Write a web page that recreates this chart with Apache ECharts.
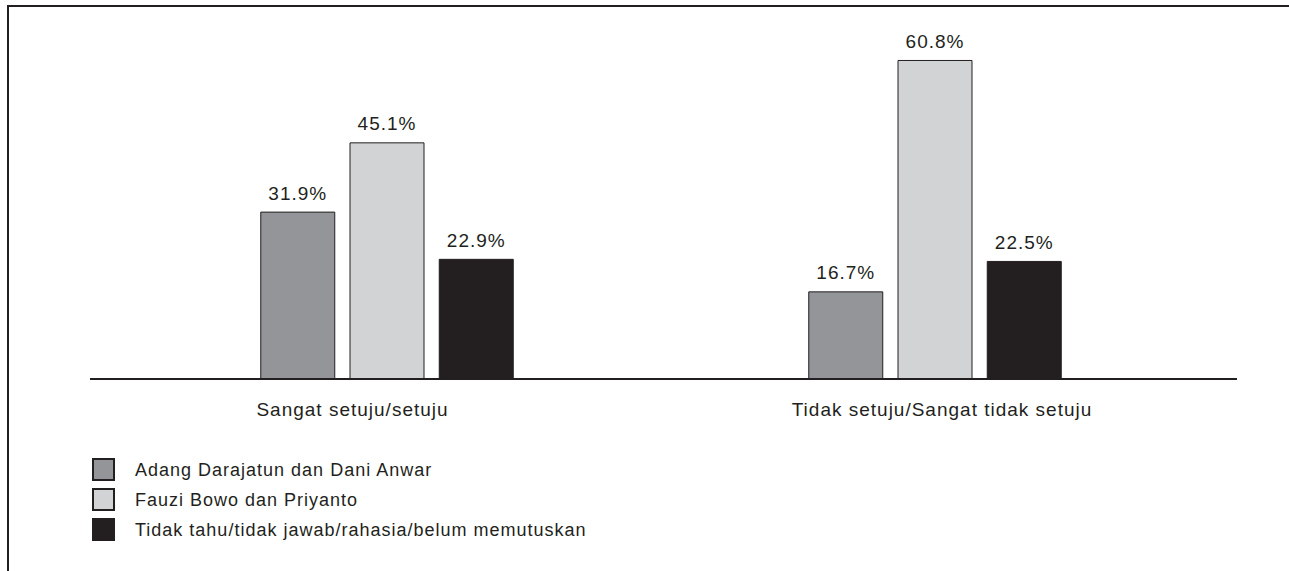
<!DOCTYPE html>
<html>
<head>
<meta charset="utf-8">
<script src="https://cdn.jsdelivr.net/npm/echarts@6/dist/echarts.min.js"></script>
<style>
  html, body { margin: 0; padding: 0; background: #fff; }
  #chart { width: 1289px; height: 571px; }
  /* the source text is a little letter-spaced */
  #chart text { letter-spacing: 1px; }
</style>
</head>
<body>
<div id="chart"></div>
<script>
// data
var categories = ['Sangat setuju/setuju', 'Tidak setuju/Sangat tidak setuju'];
var seriesNames = [
  'Adang Darajatun dan Dani Anwar',
  'Fauzi Bowo dan Priyanto',
  'Tidak tahu/tidak jawab/rahasia/belum memutuskan'
];
var adangValues = [31.9, 16.7];
var fauziValues = [45.1, 60.8];
var tidakTahuValues = [22.9, 22.5];

var colors = ['#939598', '#d1d3d4', '#231f20'];
var ink = '#231f20';
var font = 'Liberation Sans, Arial, sans-serif';

var myChart = echarts.init(document.getElementById('chart'), null, { renderer: 'svg' });

function makeSeries(name, data, color) {
  return {
    name: name,
    type: 'bar',
    data: data,
    barWidth: 75,
    barGap: '19%',
    itemStyle: { color: color, borderColor: ink, borderWidth: 1 },
    label: {
      show: true,
      position: 'top',
      distance: 9,
      formatter: '{c}%',
      color: ink,
      fontFamily: font,
      fontSize: 19
    }
  };
}

var option = {
  backgroundColor: '#fff',
  animation: false,
  grid: { left: 113, right: 80, top: 11.7, bottom: 192 },
  legend: {
    orient: 'vertical',
    left: 87,
    top: 453,
    itemWidth: 21,
    itemHeight: 21,
    itemGap: 7,
    icon: 'rect',
    data: seriesNames,
    textStyle: { color: ink, fontFamily: font, fontSize: 18, padding: [0, 0, 0, 16] }
  },
  xAxis: {
    type: 'category',
    data: categories,
    axisLine: { show: false },
    axisTick: { show: false },
    axisLabel: {
      margin: 21,
      color: ink,
      fontFamily: font,
      fontSize: 19,
      formatter: function (v, i) {
        return i === 0 ? '{a|' + v + '}' : '{b|' + v + '}';
      },
      rich: {
        a: { fontFamily: font, fontSize: 19, color: ink, padding: [0, 69, 0, 0] },
        b: { fontFamily: font, fontSize: 19, color: ink, padding: [0, 0, 0, 14] }
      }
    }
  },
  yAxis: {
    type: 'value',
    min: 0,
    max: 70,
    show: false
  },
  graphic: [
    { type: 'line', shape: { x1: 90, y1: 379, x2: 1237, y2: 379 }, style: { stroke: ink, lineWidth: 2 } },
    { type: 'line', shape: { x1: 7, y1: 6, x2: 1289, y2: 6 }, style: { stroke: ink, lineWidth: 2 } },
    { type: 'line', shape: { x1: 8, y1: 5, x2: 8, y2: 571 }, style: { stroke: ink, lineWidth: 2 } }
  ],
  series: [
    makeSeries(seriesNames[0], adangValues, colors[0]),
    makeSeries(seriesNames[1], fauziValues, colors[1]),
    makeSeries(seriesNames[2], tidakTahuValues, colors[2])
  ]
};

myChart.setOption(option);
</script>
</body>
</html>
